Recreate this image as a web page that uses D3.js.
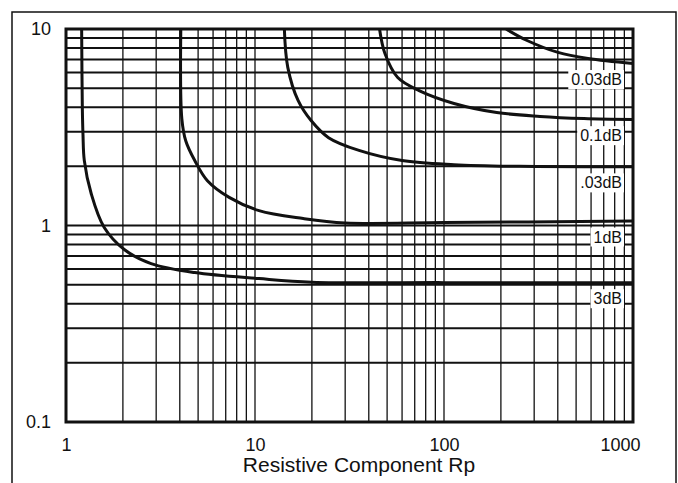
<!DOCTYPE html>
<html><head><meta charset="utf-8">
<script src="https://cdn.jsdelivr.net/npm/d3@7"></script>
<style>html,body{margin:0;padding:0;background:#fff;} svg{display:block;}</style>
</head><body>
<svg id="chart" width="678" height="483"></svg>
<script>
// ---- data ----
const xTickValues = [1, 10, 100, 1000];
const xTickLabels = ["1", "10", "100", "1000"];
const yTickValues = [0.1, 1, 10];
const yTickLabels = ["0.1", "1", "10"];
const axisTitle = "Resistive Component Rp";
const curveNames = ["0.03dB", "0.1dB", ".03dB", "1dB", "3dB"];
const curve0p03 = [[213,10],[275,8.74],[401,7.6],[578,7.08],[1000,6.68]];
const curve0p1  = [[45.6,10],[48.7,7.5],[56.9,5.66],[73.8,4.86],[113,4.18],[190,3.76],[322,3.59],[550,3.5],[1000,3.46]];
const curve0p3  = [[14.3,10],[14.9,6.4],[16.9,4.33],[19.8,3.42],[24.5,2.8],[35.5,2.41],[60,2.14],[113,2.04],[250,2.0],[1000,1.99]];
const curve1    = [[4.05,10],[4.1,3.5],[4.3,2.7],[4.8,2.14],[5.6,1.69],[7.3,1.39],[10.5,1.19],[18,1.085],[30,1.03],[100,1.035],[1000,1.055]];
const curve3    = [[1.21,10],[1.22,4.0],[1.23,2.9],[1.25,2.14],[1.36,1.45],[1.59,0.98],[2.05,0.75],[2.82,0.64],[4.8,0.576],[10.5,0.537],[20,0.515],[100,0.512],[1000,0.512]];
const curves = [curve0p03, curve0p1, curve0p3, curve1, curve3];

// ---- layout ----
const svg = d3.select("#chart");
const pL = 66, pR = 633, pT = 29, pB = 422;
const font = "'Liberation Sans', Arial, Helvetica, sans-serif";

const x = d3.scaleLog().domain([1, 1000]).range([pL, pR]);
const y = d3.scaleLog().domain([0.1, 10]).range([pB, pT]);

// outer frame
svg.append("rect").attr("x", 12).attr("y", 12).attr("width", 664).attr("height", 480)
  .attr("fill", "none").attr("stroke", "#111").attr("stroke-width", 1.5);

// grid lines
const xGrid = [], yGrid = [];
xTickValues.slice(0, -1).forEach(d => { for (let m = 1; m <= 9; m++) xGrid.push(d * m); });
xGrid.push(1000);
yTickValues.slice(0, -1).forEach(d => { for (let m = 1; m <= 9; m++) yGrid.push(d * m); });
yGrid.push(10);

const g = svg.append("g");
g.selectAll("line.vg").data(xGrid).join("line").attr("class", "vg")
  .attr("x1", d => x(d)).attr("x2", d => x(d)).attr("y1", pT).attr("y2", pB)
  .attr("stroke", "#111").attr("stroke-width", 1.3);
g.selectAll("line.hg").data(yGrid).join("line").attr("class", "hg")
  .attr("x1", pL).attr("x2", pR).attr("y1", d => y(d)).attr("y2", d => y(d))
  .attr("stroke", "#111").attr("stroke-width", 2);

// clip for curves
svg.append("clipPath").attr("id", "clip").append("rect")
  .attr("x", pL).attr("y", pT).attr("width", pR - pL).attr("height", pB - pT);

const line = d3.line().x(d => x(d[0])).y(d => y(d[1])).curve(d3.curveCatmullRom.alpha(0.5));
svg.append("g").attr("clip-path", "url(#clip)")
  .selectAll("path").data(curves).join("path")
  .attr("d", line).attr("fill", "none").attr("stroke", "#111").attr("stroke-width", 3)
  .attr("stroke-linejoin", "round");

// plot border
svg.append("rect").attr("x", pL).attr("y", pT).attr("width", pR - pL).attr("height", pB - pT)
  .attr("fill", "none").attr("stroke", "#111").attr("stroke-width", 3);

// curve labels
const lab = svg.append("g");
curves.forEach((c, i) => {
  const last = c[c.length - 1];
  const cy = y(last[1]) + 16;
  const t = lab.append("text").attr("x", pR - 11).attr("y", cy).attr("dy", "0.35em")
    .attr("text-anchor", "end").attr("font-family", font).attr("font-size", 16)
    .attr("fill", "#111").text(curveNames[i]);
  const b = t.node().getBBox();
  lab.insert("rect", "text").attr("x", b.x - 3).attr("y", b.y - 1)
    .attr("width", b.width + 5).attr("height", b.height + 2).attr("fill", "#fff");
});

// axes
const xAxis = svg.append("g").attr("transform", `translate(0,${pB})`)
  .call(d3.axisBottom(x).tickValues(xTickValues).tickFormat((d, i) => xTickLabels[i]).tickSize(0).tickPadding(16));
xAxis.select(".domain").remove();
xAxis.selectAll("text").attr("font-family", font).attr("font-size", 18).attr("fill", "#111");
xAxis.selectAll(".tick").filter(d => d === 1000).select("text").attr("text-anchor", "end").attr("x", 7);

const yAxis = svg.append("g").attr("transform", `translate(${pL},0)`)
  .call(d3.axisLeft(y).tickValues(yTickValues).tickFormat((d, i) => yTickLabels[i]).tickSize(0).tickPadding(15));
yAxis.select(".domain").remove();
yAxis.selectAll("text").attr("font-family", font).attr("font-size", 18).attr("fill", "#111");

svg.append("text").attr("x", 359).attr("y", 472).attr("text-anchor", "middle")
  .attr("font-family", font).attr("font-size", 21).attr("fill", "#111").text(axisTitle);
</script>
</body></html>
